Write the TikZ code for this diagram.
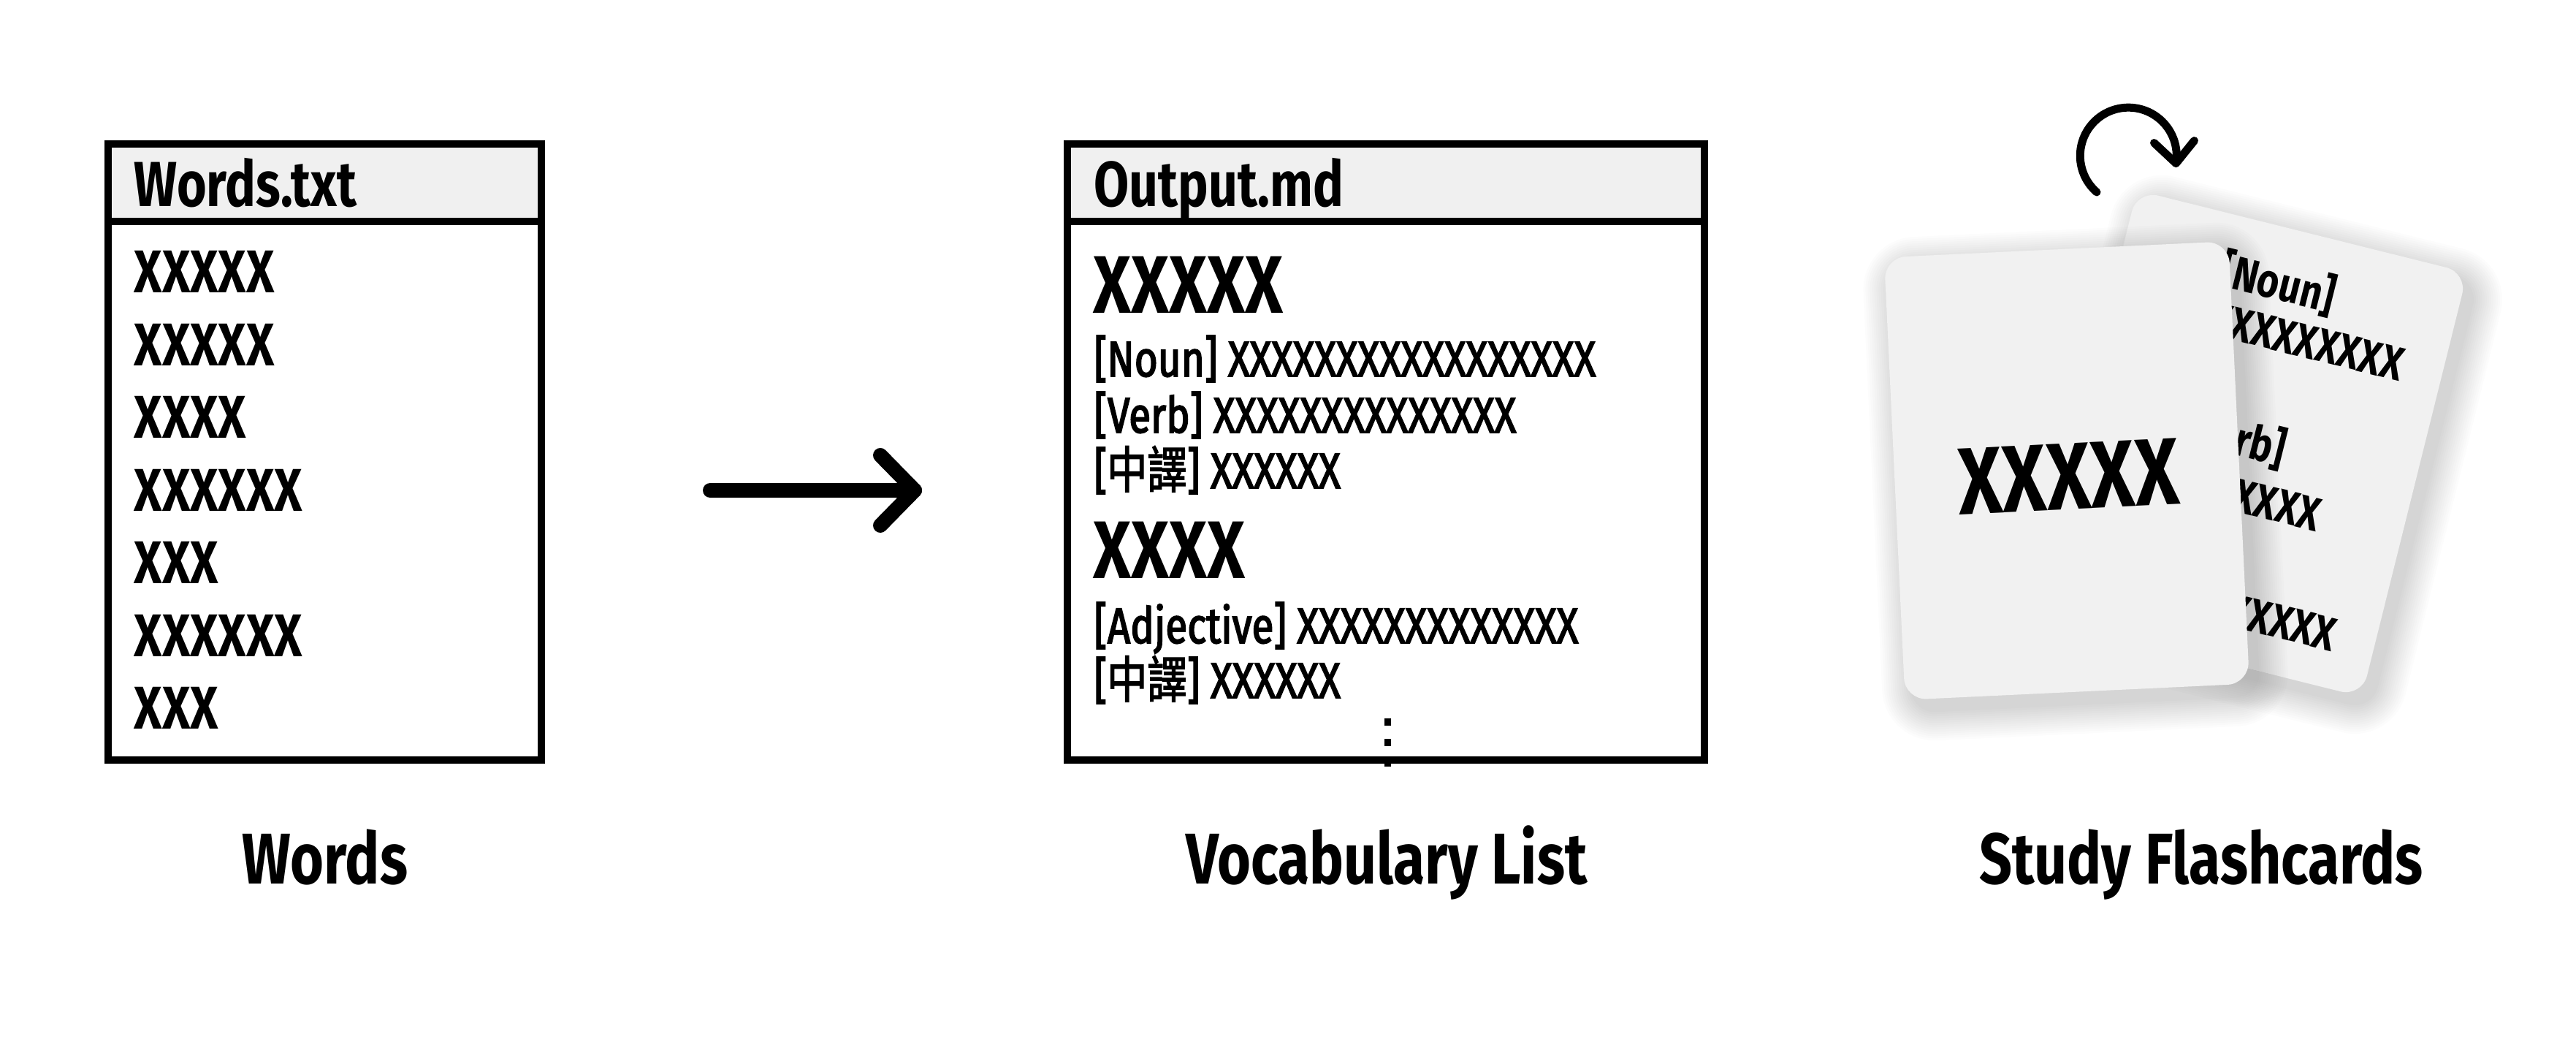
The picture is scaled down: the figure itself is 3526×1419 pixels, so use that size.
\documentclass[tikz,border=0pt]{standalone}
\usepackage{fontspec}
\setmainfont{Fira Sans}[FakeStretch=0.8]
\newfontfamily\medfont{Fira Sans}[FakeStretch=0.8,FakeBold=2.5]
\newfontfamily\cjkfont{Noto Sans CJK TC}[FakeStretch=0.8,FakeBold=2]
\usetikzlibrary{positioning}
\definecolor{headgray}{HTML}{F0F0F0}
\definecolor{cardgray}{HTML}{F1F1F1}
\tikzset{
	filebox/.style={line width=0.95mm},
	titletext/.style={anchor=base west,inner sep=0,font=\bfseries\fontsize{24.8}{30}\selectfont},
	wordtext/.style={anchor=base west,inner sep=0,font=\bfseries\fontsize{23.5}{28}\selectfont},
	headword/.style={anchor=base west,inner sep=0,font=\bfseries\fontsize{31.8}{38}\selectfont},
	deftext/.style={anchor=base west,inner sep=0,font=\medfont\fontsize{19.5}{23}\selectfont},
	caption/.style={anchor=base,inner sep=0,font=\bfseries\fontsize{28}{34}\selectfont},
	cardword/.style={inner sep=0,transform shape,font=\bfseries\fontsize{37}{44}\selectfont},
	backtext/.style={anchor=base west,inner sep=0,transform shape,font=\bfseries\fontsize{18.5}{22}\selectfont},
	thickline/.style={line width=2mm,line cap=round,line join=round},
	turnline/.style={line width=1.1mm,line cap=round,line join=round},
	card/.style={fill=cardgray,rounded corners=3mm}
}

\begin{document}
\begin{tikzpicture}[x=0.1mm,y=0.1mm]
	\useasboundingbox (0,0) rectangle (3526,1419);
	% Words.txt
	\fill[headgray] (148,1222) rectangle (741,1116);
	\draw[filebox] (148,1222) rectangle (741,379);
	\draw[filebox] (148,1116) -- (741,1116);
	\node[titletext] (wordsTitle) at (183,1136) {Words.txt};
	\foreach \w [count=\i] in {XXXXX,XXXXX,XXXX,XXXXXX,XXX,XXXXXX,XXX}
		\node[wordtext] (word\i) at (183,{1018-99.5*(\i-1)}) {\w};
	\node[caption] (wordsCaption) at (445,209) {Words};
	% arrow
	\coordinate (arrowTail) at (972,748);
	\coordinate (arrowHead) at (1252,748);
	\draw[thickline] (arrowTail) -- (arrowHead);
	\draw[thickline] (arrowHead) ++(-47,48) -- (arrowHead) -- ++(-47,-48);
	% Output.md
	\fill[headgray] (1461,1222) rectangle (2333,1116);
	\foreach \d in {0,1,2}
		\fill (1895,{436-28*\d}) rectangle ++(9,-10);
	\draw[filebox] (1461,1222) rectangle (2333,379);
	\draw[filebox] (1461,1116) -- (2333,1116);
	\node[titletext] (outputTitle) at (1497,1136) {Output.md};
	\node[headword] (entryA) at (1496,990) {XXXXX};
	\node[deftext] (nounA) at (1497,904) {[Noun] XXXXXXXXXXXXXXXXX};
	\node[deftext] (verbA) at (1497,827) {[Verb] XXXXXXXXXXXXXX};
	\node[deftext] (zhA) at (1497,751) {[{\cjkfont 中譯}] XXXXXX};
	\node[headword] (entryB) at (1496,627) {XXXX};
	\node[deftext] (adjB) at (1497,539) {[Adjective] XXXXXXXXXXXXX};
	\node[deftext] (zhB) at (1497,464) {[{\cjkfont 中譯}] XXXXXX};
	\node[caption] (listCaption) at (1898,209) {Vocabulary List};
	% flashcards
	\begin{scope}[shift={(3091,797)},rotate=-14]
		\foreach \s [evaluate=\s as \rr using 3+0.3*\s] in {1,...,14}
			\fill[black,opacity=0.013,rounded corners=\rr mm] ({-233-3*\s},{-299-3*\s}) rectangle ({233+3*\s},{299+3*\s});
	\end{scope}
	\begin{scope}[shift={(3079,812)},rotate=-14]
		\fill[card] (-233,-299) rectangle (233,299);
		\node[backtext] (backNoun) at (-95,200) {[Noun]};
		\node[backtext] (backNounX) at (-95,132) {XXXXXXXXX};
		\node[backtext] (backVerb) at (-95,-20) {[Verb]};
		\node[backtext] (backVerbX) at (-95,-95) {XXXXXXX};
		\node[backtext] (backZhX) at (-95,-249) {XXXXXXXXX};
	\end{scope}
	\begin{scope}[shift={(2841,760)},rotate=2.7]
		\foreach \s [evaluate=\s as \rr using 3+0.3*\s] in {1,...,14}
			\fill[black,opacity=0.013,rounded corners=\rr mm] ({-236-3*\s},{-303-3*\s}) rectangle ({236+3*\s},{303+3*\s});
	\end{scope}
	\begin{scope}[shift={(2829,775)},rotate=2.7]
		\fill[card] (-236,-303) rectangle (236,303);
		\node[cardword] (frontWord) at (2,-8) {XXXXX};
	\end{scope}
	\coordinate (turnStart) at (2870,1156);
	\draw[turnline] (turnStart) arc[start angle=229,end angle=-9,radius=66] coordinate (turnTip);
	\draw[turnline] (turnTip) ++(-30,28) -- (turnTip) -- ++(25,31);
	\node[caption] (cardsCaption) at (3013,209) {Study Flashcards};
\end{tikzpicture}
\end{document}
